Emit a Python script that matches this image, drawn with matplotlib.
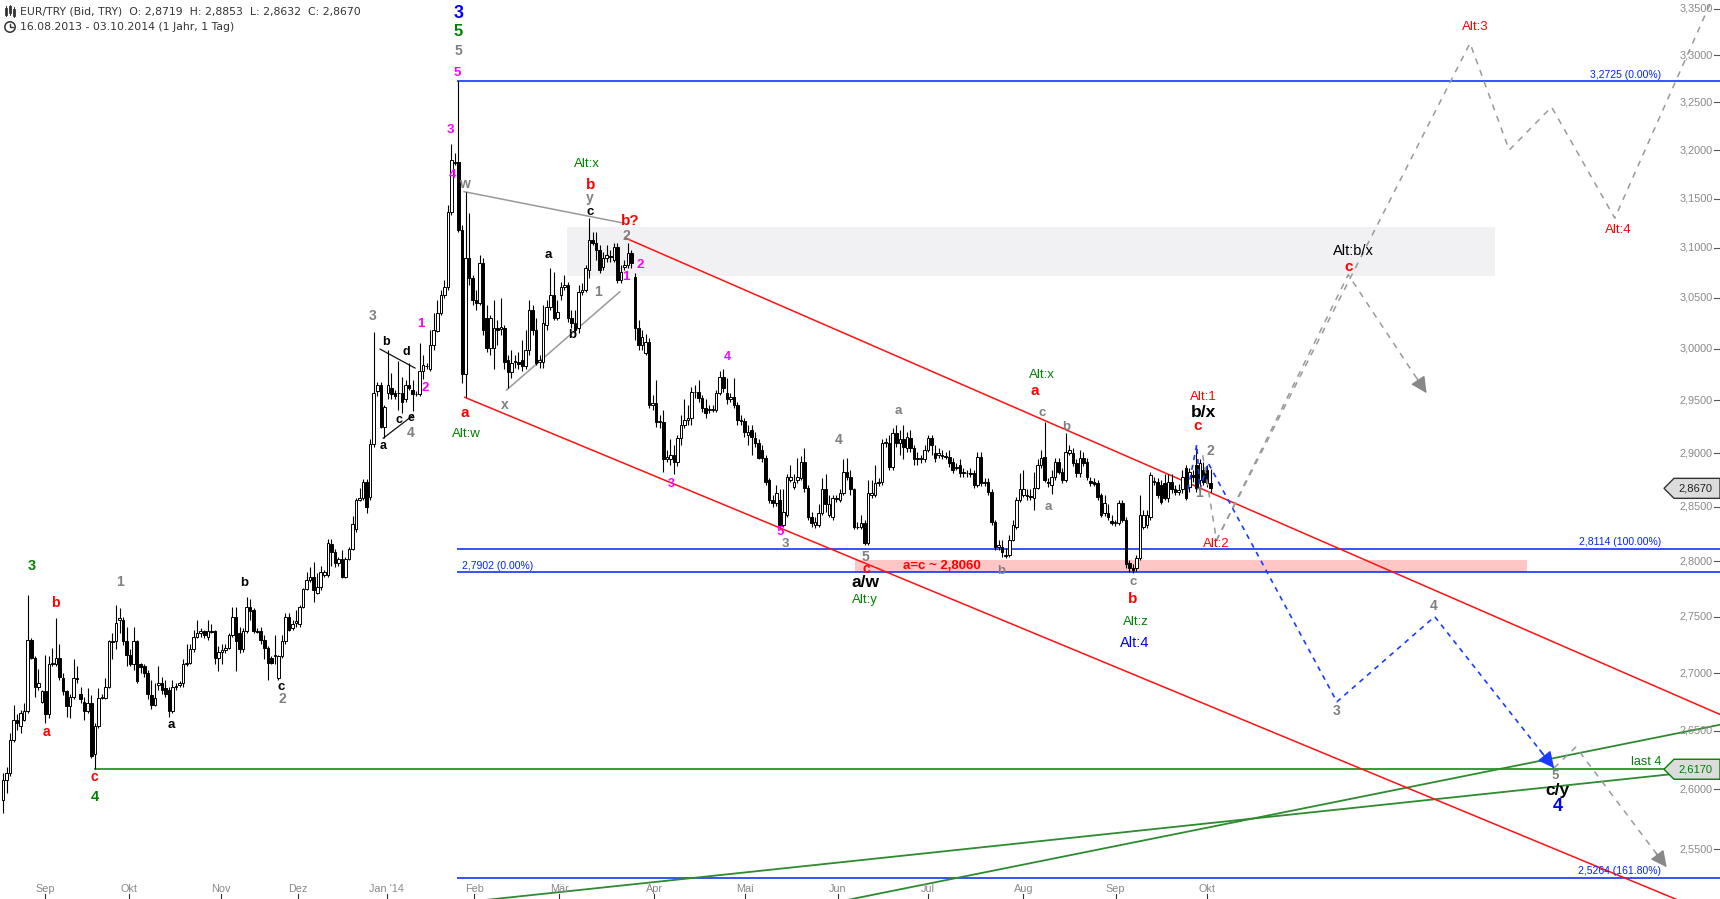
import numpy as np
import matplotlib
matplotlib.use("Agg")
import matplotlib.pyplot as plt
import matplotlib.transforms as mtransforms
from matplotlib.patches import Polygon, Circle, Rectangle
from matplotlib.lines import Line2D

plt.rcParams['font.family'] = ['Liberation Sans', 'DejaVu Sans']

# ---------------- data ----------------
symbol = "EUR/TRY (Bid, TRY)"
date_from, date_to = "16.08.2013", "03.10.2014"
span_text = "(1 Jahr, 1 Tag)"

opens = [
2.591, 2.608, 2.614, 2.642, 2.659, 2.654, 2.659, 2.667, 2.729, 2.713,
2.688, 2.675, 2.684, 2.664, 2.708, 2.708, 2.713, 2.696, 2.684, 2.671,
2.679, 2.696, 2.682, 2.675, 2.667, 2.674, 2.630, 2.654, 2.678, 2.678,
2.688, 2.728, 2.728, 2.747, 2.747, 2.728, 2.716, 2.708, 2.728, 2.708,
2.706, 2.700, 2.681, 2.672, 2.690, 2.691, 2.687, 2.685, 2.667, 2.688,
2.690, 2.691, 2.708, 2.709, 2.721, 2.732, 2.735, 2.737, 2.732, 2.737,
2.737, 2.713, 2.719, 2.720, 2.722, 2.734, 2.750, 2.735, 2.721, 2.737,
2.759, 2.756, 2.737, 2.737, 2.729, 2.722, 2.713, 2.715, 2.696, 2.715,
2.728, 2.750, 2.740, 2.744, 2.743, 2.759, 2.775, 2.783, 2.786, 2.771,
2.777, 2.787, 2.787, 2.816, 2.808, 2.798, 2.802, 2.786, 2.802, 2.811,
2.829, 2.856, 2.858, 2.873, 2.859, 2.909, 2.959, 2.965, 2.925, 2.957,
2.962, 2.957, 2.957, 2.957, 2.951, 2.965, 2.960, 2.956, 2.956, 2.978,
2.983, 2.980, 3.004, 3.017, 3.035, 3.053, 3.061, 3.136, 3.188, 3.188,
3.118, 2.975, 3.090, 3.070, 3.048, 3.045, 3.085, 3.030, 3.001, 3.001,
3.020, 3.019, 3.020, 2.989, 2.977, 2.987, 2.987, 2.989, 2.983, 2.999,
3.038, 3.018, 2.987, 2.987, 3.023, 3.041, 3.053, 3.030, 3.053, 3.061,
3.063, 3.030, 3.025, 3.020, 3.056, 3.058, 3.078, 3.108, 3.105, 3.098,
3.081, 3.090, 3.092, 3.088, 3.101, 3.068, 3.081, 3.083, 3.095, 3.071,
3.020, 3.004, 2.996, 3.007, 2.946, 2.948, 2.929, 2.929, 2.894, 2.894,
2.898, 2.892, 2.914, 2.927, 2.931, 2.933, 2.958, 2.958, 2.952, 2.943,
2.941, 2.941, 2.941, 2.957, 2.973, 2.957, 2.951, 2.953, 2.946, 2.931,
2.930, 2.917, 2.922, 2.914, 2.910, 2.903, 2.895, 2.875, 2.856, 2.853,
2.856, 2.833, 2.842, 2.875, 2.868, 2.875, 2.877, 2.892, 2.867, 2.840,
2.833, 2.833, 2.844, 2.866, 2.842, 2.840, 2.858, 2.856, 2.863, 2.882,
2.878, 2.866, 2.831, 2.831, 2.835, 2.817, 2.861, 2.861, 2.872, 2.873,
2.910, 2.910, 2.887, 2.919, 2.910, 2.913, 2.905, 2.914, 2.905, 2.894,
2.894, 2.894, 2.903, 2.914, 2.900, 2.898, 2.898, 2.897, 2.896, 2.892,
2.886, 2.889, 2.881, 2.881, 2.881, 2.881, 2.870, 2.896, 2.872, 2.873,
2.864, 2.836, 2.813, 2.813, 2.805, 2.806, 2.819, 2.831, 2.856, 2.861,
2.861, 2.860, 2.858, 2.867, 2.889, 2.896, 2.873, 2.870, 2.878, 2.892,
2.882, 2.875, 2.900, 2.900, 2.891, 2.881, 2.895, 2.892, 2.874, 2.873,
2.872, 2.861, 2.844, 2.844, 2.837, 2.835, 2.835, 2.853, 2.838, 2.798,
2.794, 2.794, 2.803, 2.831, 2.833, 2.840, 2.874, 2.873, 2.870, 2.872,
2.858, 2.873, 2.866, 2.864, 2.866, 2.886, 2.868, 2.879, 2.889, 2.875,
2.884, 2.884, 2.8719]

highs = [
2.614, 2.619, 2.648, 2.672, 2.664, 2.668, 2.674, 2.769, 2.731, 2.715,
2.704, 2.685, 2.716, 2.715, 2.722, 2.749, 2.726, 2.700, 2.685, 2.682,
2.712, 2.706, 2.688, 2.679, 2.687, 2.681, 2.657, 2.687, 2.682, 2.696,
2.729, 2.735, 2.760, 2.758, 2.750, 2.741, 2.721, 2.741, 2.729, 2.709,
2.708, 2.703, 2.694, 2.691, 2.706, 2.697, 2.694, 2.688, 2.694, 2.691,
2.693, 2.712, 2.726, 2.726, 2.738, 2.747, 2.740, 2.738, 2.747, 2.743,
2.738, 2.724, 2.726, 2.726, 2.735, 2.759, 2.759, 2.741, 2.740, 2.768,
2.766, 2.758, 2.740, 2.741, 2.734, 2.724, 2.715, 2.734, 2.716, 2.734,
2.753, 2.753, 2.747, 2.756, 2.760, 2.776, 2.790, 2.795, 2.799, 2.789,
2.796, 2.792, 2.820, 2.820, 2.811, 2.804, 2.810, 2.804, 2.813, 2.841,
2.858, 2.867, 2.876, 2.876, 2.913, 3.016, 2.968, 2.968, 2.946, 2.999,
2.976, 2.960, 2.988, 2.973, 2.970, 2.986, 2.970, 2.959, 3.006, 2.994,
2.986, 3.018, 3.035, 3.048, 3.058, 3.068, 3.143, 3.206, 3.197, 3.2725,
3.123, 3.157, 3.135, 3.073, 3.058, 3.093, 3.090, 3.043, 3.033, 3.048,
3.028, 3.050, 3.023, 2.994, 2.999, 2.994, 2.997, 3.009, 3.018, 3.048,
3.043, 3.030, 2.994, 3.043, 3.048, 3.080, 3.076, 3.048, 3.066, 3.073,
3.066, 3.038, 3.038, 3.063, 3.065, 3.083, 3.130, 3.116, 3.116, 3.103,
3.096, 3.103, 3.098, 3.105, 3.105, 3.083, 3.088, 3.105, 3.098, 3.075,
3.028, 3.018, 3.014, 3.010, 2.955, 2.970, 2.936, 2.941, 2.903, 2.913,
2.908, 2.917, 2.936, 2.951, 2.946, 2.963, 2.965, 2.970, 2.955, 2.951,
2.946, 2.946, 2.960, 2.978, 2.980, 2.972, 2.957, 2.972, 2.949, 2.936,
2.933, 2.927, 2.927, 2.920, 2.913, 2.908, 2.898, 2.877, 2.861, 2.870,
2.866, 2.866, 2.880, 2.889, 2.880, 2.895, 2.897, 2.905, 2.870, 2.845,
2.840, 2.852, 2.877, 2.880, 2.861, 2.861, 2.861, 2.866, 2.894, 2.895,
2.884, 2.867, 2.836, 2.842, 2.838, 2.875, 2.875, 2.889, 2.877, 2.913,
2.914, 2.917, 2.924, 2.927, 2.922, 2.927, 2.920, 2.922, 2.908, 2.901,
2.898, 2.908, 2.917, 2.917, 2.908, 2.905, 2.903, 2.901, 2.903, 2.895,
2.891, 2.894, 2.886, 2.884, 2.886, 2.884, 2.901, 2.901, 2.877, 2.877,
2.866, 2.838, 2.819, 2.819, 2.812, 2.824, 2.838, 2.859, 2.881, 2.884,
2.866, 2.866, 2.882, 2.894, 2.903, 2.929, 2.877, 2.884, 2.895, 2.895,
2.886, 2.919, 2.908, 2.905, 2.894, 2.903, 2.901, 2.895, 2.878, 2.877,
2.875, 2.863, 2.861, 2.852, 2.842, 2.838, 2.856, 2.856, 2.840, 2.801,
2.797, 2.806, 2.861, 2.847, 2.847, 2.882, 2.878, 2.877, 2.875, 2.880,
2.880, 2.880, 2.870, 2.871, 2.884, 2.889, 2.886, 2.884, 2.908, 2.894,
2.892, 2.889, 2.8853]

lows = [
2.580, 2.597, 2.611, 2.640, 2.651, 2.648, 2.658, 2.665, 2.712, 2.679,
2.685, 2.674, 2.657, 2.661, 2.706, 2.706, 2.694, 2.681, 2.662, 2.661,
2.677, 2.691, 2.674, 2.659, 2.665, 2.627, 2.617, 2.652, 2.677, 2.677,
2.687, 2.712, 2.721, 2.735, 2.725, 2.706, 2.706, 2.703, 2.691, 2.700,
2.697, 2.677, 2.669, 2.671, 2.685, 2.682, 2.679, 2.662, 2.665, 2.685,
2.688, 2.688, 2.706, 2.708, 2.719, 2.731, 2.732, 2.731, 2.729, 2.735,
2.708, 2.702, 2.708, 2.718, 2.721, 2.732, 2.702, 2.718, 2.719, 2.735,
2.747, 2.735, 2.735, 2.726, 2.712, 2.694, 2.708, 2.708, 2.694, 2.713,
2.726, 2.737, 2.738, 2.741, 2.741, 2.758, 2.774, 2.781, 2.763, 2.770,
2.774, 2.786, 2.786, 2.796, 2.795, 2.796, 2.785, 2.785, 2.801, 2.810,
2.827, 2.855, 2.856, 2.844, 2.856, 2.906, 2.954, 2.924, 2.914, 2.951,
2.951, 2.951, 2.941, 2.938, 2.949, 2.960, 2.940, 2.954, 2.954, 2.971,
2.980, 2.978, 2.999, 3.016, 3.033, 3.050, 3.058, 3.133, 3.184, 3.116,
2.967, 2.953, 3.063, 3.043, 3.038, 3.043, 3.013, 2.997, 2.994, 2.980,
3.004, 3.013, 2.980, 2.962, 2.972, 2.981, 2.980, 2.978, 2.980, 2.994,
3.013, 2.984, 2.981, 2.981, 3.018, 3.038, 3.028, 3.028, 3.048, 3.058,
3.026, 3.020, 3.013, 3.015, 3.053, 3.056, 3.070, 3.103, 3.088, 3.075,
3.078, 3.086, 3.086, 3.086, 3.065, 3.065, 3.078, 3.080, 3.080, 3.009,
2.999, 2.999, 2.994, 2.943, 2.941, 2.925, 2.924, 2.882, 2.892, 2.889,
2.880, 2.888, 2.908, 2.924, 2.927, 2.927, 2.952, 2.949, 2.939, 2.933,
2.938, 2.939, 2.939, 2.955, 2.958, 2.947, 2.949, 2.943, 2.927, 2.927,
2.915, 2.908, 2.898, 2.906, 2.894, 2.892, 2.870, 2.853, 2.850, 2.851,
2.831, 2.831, 2.840, 2.873, 2.866, 2.872, 2.875, 2.864, 2.838, 2.831,
2.830, 2.831, 2.842, 2.845, 2.840, 2.838, 2.854, 2.854, 2.861, 2.875,
2.861, 2.829, 2.829, 2.829, 2.815, 2.815, 2.858, 2.859, 2.869, 2.870,
2.906, 2.884, 2.884, 2.906, 2.898, 2.894, 2.901, 2.901, 2.889, 2.889,
2.891, 2.892, 2.901, 2.898, 2.892, 2.895, 2.894, 2.894, 2.887, 2.881,
2.884, 2.878, 2.878, 2.878, 2.878, 2.867, 2.868, 2.869, 2.869, 2.861,
2.833, 2.810, 2.810, 2.804, 2.803, 2.804, 2.818, 2.829, 2.854, 2.859,
2.856, 2.856, 2.847, 2.866, 2.886, 2.873, 2.868, 2.862, 2.875, 2.880,
2.872, 2.873, 2.898, 2.888, 2.878, 2.878, 2.888, 2.875, 2.869, 2.869,
2.856, 2.840, 2.841, 2.838, 2.833, 2.832, 2.833, 2.836, 2.794, 2.790,
2.789, 2.791, 2.801, 2.829, 2.830, 2.838, 2.870, 2.858, 2.852, 2.856,
2.854, 2.863, 2.861, 2.861, 2.863, 2.856, 2.864, 2.873, 2.864, 2.870,
2.870, 2.868, 2.8632]

closes = [
2.608, 2.614, 2.642, 2.659, 2.657, 2.665, 2.667, 2.729, 2.713, 2.688,
2.691, 2.684, 2.664, 2.708, 2.709, 2.713, 2.697, 2.684, 2.671, 2.679,
2.696, 2.695, 2.677, 2.667, 2.674, 2.628, 2.654, 2.678, 2.679, 2.688,
2.728, 2.727, 2.744, 2.749, 2.728, 2.716, 2.708, 2.728, 2.693, 2.705,
2.700, 2.682, 2.672, 2.678, 2.691, 2.685, 2.682, 2.667, 2.688, 2.689,
2.691, 2.708, 2.709, 2.721, 2.732, 2.735, 2.737, 2.734, 2.737, 2.736,
2.713, 2.719, 2.720, 2.722, 2.734, 2.750, 2.728, 2.721, 2.737, 2.759,
2.755, 2.737, 2.736, 2.729, 2.722, 2.709, 2.709, 2.716, 2.715, 2.728,
2.750, 2.738, 2.743, 2.746, 2.759, 2.775, 2.783, 2.786, 2.774, 2.777,
2.790, 2.790, 2.817, 2.808, 2.798, 2.802, 2.786, 2.802, 2.811, 2.834,
2.856, 2.858, 2.873, 2.850, 2.909, 2.957, 2.965, 2.925, 2.944, 2.965,
2.956, 2.954, 2.957, 2.949, 2.965, 2.962, 2.956, 2.956, 2.978, 2.984,
2.983, 3.004, 3.018, 3.035, 3.053, 3.061, 3.136, 3.190, 3.187, 3.118,
2.975, 3.090, 3.070, 3.048, 3.045, 3.085, 3.018, 3.001, 3.030, 3.020,
3.018, 3.021, 2.987, 2.977, 2.986, 2.987, 2.985, 2.983, 2.999, 3.038,
3.018, 2.986, 2.989, 3.025, 3.041, 3.053, 3.030, 3.036, 3.061, 3.063,
3.030, 3.025, 3.018, 3.056, 3.058, 3.080, 3.108, 3.105, 3.098, 3.078,
3.090, 3.093, 3.091, 3.101, 3.068, 3.076, 3.083, 3.095, 3.085, 3.020,
3.004, 3.011, 3.007, 2.946, 2.948, 2.929, 2.930, 2.894, 2.896, 2.898,
2.892, 2.914, 2.927, 2.931, 2.933, 2.958, 2.958, 2.952, 2.943, 2.938,
2.941, 2.942, 2.957, 2.973, 2.962, 2.951, 2.953, 2.946, 2.931, 2.930,
2.920, 2.920, 2.915, 2.910, 2.895, 2.895, 2.873, 2.856, 2.853, 2.863,
2.833, 2.845, 2.878, 2.878, 2.873, 2.878, 2.892, 2.867, 2.840, 2.835,
2.836, 2.844, 2.866, 2.852, 2.852, 2.858, 2.857, 2.863, 2.882, 2.878,
2.866, 2.831, 2.831, 2.835, 2.817, 2.863, 2.863, 2.872, 2.873, 2.910,
2.910, 2.887, 2.919, 2.910, 2.913, 2.906, 2.915, 2.905, 2.894, 2.895,
2.895, 2.903, 2.914, 2.908, 2.895, 2.900, 2.897, 2.896, 2.891, 2.884,
2.887, 2.881, 2.882, 2.881, 2.880, 2.870, 2.896, 2.872, 2.873, 2.864,
2.836, 2.813, 2.815, 2.808, 2.806, 2.819, 2.833, 2.856, 2.866, 2.866,
2.860, 2.859, 2.867, 2.889, 2.895, 2.875, 2.872, 2.878, 2.892, 2.882,
2.875, 2.901, 2.903, 2.891, 2.881, 2.895, 2.891, 2.878, 2.872, 2.871,
2.859, 2.842, 2.853, 2.840, 2.835, 2.835, 2.853, 2.838, 2.797, 2.794,
2.792, 2.803, 2.842, 2.842, 2.842, 2.879, 2.873, 2.861, 2.854, 2.858,
2.873, 2.866, 2.864, 2.865, 2.878, 2.858, 2.882, 2.878, 2.867, 2.891,
2.873, 2.872, 2.8670]

month_labels = ["Sep", "Okt", "Nov", "Dez", "Jan '14", "Feb", "Mär", "Apr",
                "Mai", "Jun", "Jul", "Aug", "Sep", "Okt"]
month_bars = [11.9, 35.8, 61.7, 83.5, 108.7, 133.5, 157.6, 184.4,
              210.1, 236.4, 262.0, 289.0, 315.1, 340.9]

price_ticks = [3.35, 3.30, 3.25, 3.20, 3.15, 3.10, 3.05, 3.00, 2.95, 2.90,
               2.85, 2.80, 2.75, 2.70, 2.65, 2.60, 2.55]

fib_levels = [3.2725, 2.8114, 2.7902, 2.5264]
fib_texts = ["3,2725 (0.00%)", "2,8114 (100.00%)", "2,7902 (0.00%)", "2,5264 (161.80%)"]
fib_start_bar = 128.7
last4_level = 2.6170
last4_start_bar = 25.8

# trend lines (bar, price)
chan_up_x, chan_up_y = [176.2, 486.3], [3.110, 2.664]
chan_lo_x, chan_lo_y = [130.8, 486.3], [2.953, 2.494]
w_line_x, w_line_y = [130.6, 175.7], [3.157, 3.125]
x_line_x, x_line_y = [142.6, 174.7], [2.960, 3.056]
tri_up_x, tri_up_y = [106.8, 116.7], [2.9996, 2.9812]
tri_lo_x, tri_lo_y = [107.7, 116.2], [2.9141, 2.9360]
grn_a_x, grn_a_y = [225.7, 486.3], [2.5005, 2.6551]
grn_b_x, grn_b_y = [123.8, 486.3], [2.5043, 2.6172]

# zones: (bar0, bar1, price_lo, price_hi)
pink_zone = (241.3, 431.6, 2.7902, 2.8010)
gray_zone = (159.7, 422.5, 3.0714, 3.1215)

# projected paths
blue_x = [335.6, 338.1, 339.0, 341.3, 377.8, 405.5, 439.3]
blue_y = [2.866, 2.908, 2.866, 2.891, 2.675, 2.750, 2.618]
gray1_x = [339.8, 343.7, 381.0, 403.2]
gray1_y = [2.898, 2.819, 3.073, 2.957]
gray2_x = [343.7, 415.5, 426.6, 438.6, 456.5, 484.0]
gray2_y = [2.819, 3.313, 3.200, 3.245, 3.130, 3.360]
gray3_x = [439.3, 445.5, 471.2]
gray3_y = [2.618, 2.636, 2.535]

R, G, GR, K, M, B = '#ff0000', '#008000', '#808080', '#000000', '#ff00ff', '#0000ff'
labels = [
    ("3", 8.2, 2.7956, G, 10.5, 'bold'),
    ("b", 14.7, 2.7623, R, 10, 'bold'),
    ("a", 12.2, 2.6491, R, 10, 'bold'),
    ("c", 25.9, 2.6106, R, 10, 'bold'),
    ("4", 25.9, 2.5934, G, 10.5, 'bold'),
    ("1", 33.0, 2.7808, GR, 10, 'bold'),
    ("a", 47.6, 2.6551, K, 9.5, 'bold'),
    ("b", 68.4, 2.7799, K, 9.5, 'bold'),
    ("c", 78.7, 2.6882, K, 9.5, 'bold'),
    ("2", 79.0, 2.6776, GR, 10, 'bold'),
    ("3", 104.8, 3.0322, GR, 10, 'bold'),
    ("b", 108.4, 3.0067, K, 9, 'bold'),
    ("d", 114.3, 2.9970, K, 9, 'bold'),
    ("c", 112.2, 2.9314, K, 9, 'bold'),
    ("e", 115.5, 2.9335, K, 9, 'bold'),
    ("a", 107.7, 2.9070, K, 9, 'bold'),
    ("4", 115.5, 2.9191, GR, 10, 'bold'),
    ("1", 118.3, 3.0240, M, 9.5, 'bold'),
    ("2", 119.5, 2.9618, M, 9.5, 'bold'),
    ("3", 126.6, 3.2205, M, 9.5, 'bold'),
    ("4", 127.4, 3.1746, M, 9.5, 'bold'),
    ("5", 128.7, 3.2811, M, 9.5, 'bold'),
    ("5", 129.0, 3.3042, GR, 10, 'bold'),
    ("5", 129.0, 3.3251, G, 12, 'bold'),
    ("3", 129.0, 3.3454, B, 13, 'bold'),
    ("w", 130.6, 3.1648, GR, 10, 'bold'),
    ("a", 130.8, 2.9378, R, 11, 'bold'),
    ("Alt:w", 131.3, 2.9179, G, 9.5, 'normal'),
    ("x", 142.2, 2.9458, GR, 10, 'bold'),
    ("a", 154.4, 3.0928, K, 9.5, 'bold'),
    ("b", 161.3, 3.0135, K, 9.5, 'bold'),
    ("1", 168.4, 3.0562, GR, 10, 'bold'),
    ("Alt:x", 165.5, 3.1855, G, 9.5, 'normal'),
    ("b", 166.4, 3.1639, R, 11, 'bold'),
    ("y", 166.2, 3.1503, GR, 10, 'bold'),
    ("c", 166.2, 3.1366, K, 9.5, 'bold'),
    ("b?", 177.6, 3.1275, R, 11, 'bold'),
    ("2", 176.6, 3.1119, GR, 10, 'bold'),
    ("2", 180.4, 3.0828, M, 9.5, 'bold'),
    ("1", 176.3, 3.0705, M, 9.5, 'bold'),
    ("4", 205.1, 2.9924, M, 9, 'bold'),
    ("3", 189.2, 2.8709, M, 9, 'bold'),
    ("5", 220.0, 2.8264, M, 9.5, 'bold'),
    ("3", 221.5, 2.8154, GR, 9.5, 'bold'),
    ("4", 236.8, 2.9125, GR, 10, 'bold'),
    ("5", 244.4, 2.8041, GR, 10, 'bold'),
    ("c", 244.4, 2.7926, R, 10, 'bold'),
    ("a/w", 244.3, 2.7808, K, 12.5, 'bold'),
    ("Alt:y", 244.0, 2.7650, G, 9.5, 'normal'),
    ("a", 253.6, 2.9403, GR, 9.5, 'bold'),
    ("b", 282.8, 2.7914, GR, 9.5, 'bold'),
    ("Alt:x", 294.2, 2.9746, G, 9.5, 'normal'),
    ("a", 292.1, 2.9595, R, 11, 'bold'),
    ("c", 294.2, 2.9384, GR, 9.5, 'bold'),
    ("b", 301.0, 2.9244, GR, 9.5, 'bold'),
    ("a", 296.2, 2.8495, GR, 9.5, 'bold'),
    ("c", 320.0, 2.7810, GR, 9.5, 'bold'),
    ("b", 320.0, 2.7656, R, 11, 'bold'),
    ("Alt:z", 321.0, 2.7456, G, 9.5, 'normal'),
    ("Alt:4", 320.6, 2.7269, B, 10.5, 'normal'),
    ("Alt:1", 340.1, 2.9531, R, 9.5, 'normal'),
    ("b/x", 339.9, 2.9388, K, 12.5, 'bold'),
    ("c", 338.3, 2.9259, R, 11, 'bold'),
    ("2", 342.0, 2.9020, GR, 10, 'bold'),
    ("1", 338.8, 2.8624, GR, 10, 'bold'),
    ("Alt:2", 343.7, 2.8157, R, 9.5, 'normal'),
    ("Alt:b/x", 382.6, 3.0971, K, 10.5, 'normal'),
    ("c", 381.0, 3.0811, R, 11, 'bold'),
    ("Alt:3", 416.9, 3.3307, R, 9.5, 'normal'),
    ("Alt:4", 457.5, 3.1180, R, 9.5, 'normal'),
    ("4", 405.2, 2.7591, GR, 10, 'bold'),
    ("3", 377.8, 2.6674, GR, 10, 'bold'),
    ("5", 439.5, 2.6115, GR, 9.5, 'bold'),
    ("c/y", 440.3, 2.5990, K, 12.5, 'bold'),
    ("4", 440.3, 2.5858, B, 13, 'bold'),
    ("last 4", 465.3, 2.6230, G, 9, 'normal'),
]
ac_text, ac_bar, ac_price = "a=c ~ 2,8060", 255.0, 2.7956

# ---------------- figure ----------------
W, H = 1720, 899
fig = plt.figure(figsize=(W / 100, H / 100), dpi=100)
fig.patch.set_facecolor('white')
ax = fig.add_axes([0, 0, 1, 1])
ax.set_yscale('log')
X_MIN, X_MAX = -0.85, 486.3
Y_MIN, Y_MAX = 2.5090, 3.3598
ax.set_xlim(X_MIN, X_MAX)
ax.set_ylim(Y_MIN, Y_MAX)
ax.axis('off')

o = np.array(opens); h = np.array(highs); l = np.array(lows); c = np.array(closes)
assert len(o) == len(h) == len(l) == len(c), (len(o), len(h), len(l), len(c))
h = np.maximum(h, np.maximum(o, c)); l = np.minimum(l, np.minimum(o, c))
idx = np.arange(len(o))

# zones
ax.add_patch(Rectangle((gray_zone[0], gray_zone[2]), gray_zone[1] - gray_zone[0],
                       gray_zone[3] - gray_zone[2], facecolor='#f1f0f2', edgecolor='none', zorder=1))
ax.add_patch(Rectangle((pink_zone[0], pink_zone[2]), pink_zone[1] - pink_zone[0],
                       pink_zone[3] - pink_zone[2], facecolor='#ffc6c6', edgecolor='none', zorder=1))

# fib lines
ax.hlines(fib_levels, fib_start_bar, X_MAX, color='#0022ff', lw=1.1, zorder=2)
for lev, txt in zip(fib_levels, fib_texts):
    if txt.startswith("2,7902"):
        ax.text(130.0, lev * 1.0004, txt, color='#0022ff', fontsize=7.5, ha='left', va='bottom', zorder=6)
    else:
        ax.text(469.6, lev * 1.0004, txt, color='#0022ff', fontsize=7.5, ha='right', va='bottom', zorder=6)

# green last-4 level and rising lines
ax.hlines(last4_level, last4_start_bar, X_MAX, color='#008000', lw=1.1, zorder=2)
ax.plot(grn_a_x, grn_a_y, color='#2e8b2e', lw=1.3, zorder=2)
ax.plot(grn_b_x, grn_b_y, color='#2e8b2e', lw=1.3, zorder=2)

# channels and wedge lines
ax.plot(chan_up_x, chan_up_y, color='#ff1010', lw=1.1, zorder=2)
ax.plot(chan_lo_x, chan_lo_y, color='#ff1010', lw=1.1, zorder=2)
ax.plot(w_line_x, w_line_y, color='#999999', lw=1.1, zorder=2)
ax.plot(x_line_x, x_line_y, color='#999999', lw=1.1, zorder=2)
ax.plot(tri_up_x, tri_up_y, color='#111111', lw=0.9, zorder=2)
ax.plot(tri_lo_x, tri_lo_y, color='#111111', lw=0.9, zorder=2)

# candles
ax.vlines(idx, l, h, color='black', lw=0.8, zorder=3)
bot = np.minimum(o, c); top = np.maximum(o, c)
hgt = np.maximum(top - bot, 0.0006)
up = c >= o
ax.bar(idx[up], hgt[up], bottom=bot[up], width=0.72, color='white', edgecolor='black', linewidth=0.7, zorder=4)
ax.bar(idx[~up], hgt[~up], bottom=bot[~up], width=0.72, color='black', edgecolor='black', linewidth=0.7, zorder=4)

# projected paths
ax.plot(blue_x, blue_y, color='#1a3cff', lw=1.2, ls=(0, (3, 3)), zorder=5)
for px_, py_ in ((gray1_x, gray1_y), (gray2_x, gray2_y), (gray3_x, gray3_y)):
    ax.plot(px_, py_, color='#999999', lw=1.1, ls=(0, (4, 4)), zorder=5)


def arrow_head(xs, ys, color):
    x0, y0, x1, y1 = xs[-2], ys[-2], xs[-1], ys[-1]
    t = 0.88
    xm = x0 + (x1 - x0) * t
    ym = np.exp(np.log(y0) + (np.log(y1) - np.log(y0)) * t)
    ax.annotate('', xy=(x1, y1), xytext=(xm, ym),
                arrowprops=dict(arrowstyle='-|>,head_length=0.9,head_width=0.45', color=color,
                                lw=1.0, shrinkA=0, shrinkB=0, mutation_scale=11), zorder=6)


arrow_head(blue_x, blue_y, '#1a3cff')
arrow_head(gray1_x, gray1_y, '#888888')
arrow_head(gray3_x, gray3_y, '#888888')

# labels
for txt, bx, py, col, fs, fw in labels:
    ax.text(bx, py, txt, color=col, fontsize=fs, fontweight=fw, ha='center', va='center', zorder=7)
ax.text(ac_bar, ac_price, ac_text, color=R, fontsize=9.5, fontweight='bold', ha='left', va='center', zorder=7)

# price axis on the right (drawn inside)
tr_y = mtransforms.blended_transform_factory(ax.transAxes, ax.transData)
for v in price_ticks:
    ax.text(1 - 7 / W, v, f"{v:.4f}".replace('.', ','), transform=tr_y, ha='right', va='center',
            color='#888888', fontsize=7.8, zorder=6)
    ax.plot([1 - 6 / W, 1], [v, v], transform=tr_y, color='#555555', lw=0.8, zorder=6)

# time axis at the bottom
tr_x = mtransforms.blended_transform_factory(ax.transData, ax.transAxes)
for lab, bx in zip(month_labels, month_bars):
    ax.text(bx, 1 - 889 / H, lab, transform=tr_x, ha='center', va='center', color='#888888', fontsize=7.8, zorder=6)
    ax.plot([bx, bx], [0, 5 / H], transform=tr_x, color='#333333', lw=0.8, zorder=6)

# price tags at the right edge
ident = mtransforms.IdentityTransform()


def price_tag(price, edge, face, tcol):
    px, py = ax.transData.transform((X_MAX, price))
    verts = [(px, py - 10), (px - 46, py - 10), (px - 56, py), (px - 46, py + 10), (px, py + 10)]
    ax.add_patch(Polygon(verts, closed=True, transform=ident, facecolor=face, edgecolor=edge, lw=1.0, zorder=8))
    ax.text(px - 25, py, f"{price:.4f}".replace('.', ','), transform=ident, ha='center', va='center',
            color=tcol, fontsize=8, zorder=9)


price_tag(c[-1], '#333333', '#dcdcdc', '#222222')
price_tag(last4_level, '#008000', '#dcdcdc', '#008000')

# header
fmt = lambda v: f"{v:.4f}".replace('.', ',')
hdr = f"{symbol}  O: {fmt(o[-1])}  H: {fmt(h[-1])}  L: {fmt(l[-1])}  C: {fmt(c[-1])}"
fig.text(20 / W, 1 - 11 / H, hdr, ha='left', va='center', fontsize=7.8, color='#333333',
         family=['DejaVu Sans'])
fig.text(20 / W, 1 - 27 / H, f"{date_from} - {date_to} {span_text}", ha='left', va='center',
         fontsize=7.8, color='#333333', family=['DejaVu Sans'])
# small icons
for xx, y0, y1, b0, b1 in ((6, 6, 16, 9, 14), (10, 5, 15, 7, 12), (14, 7, 17, 10, 15)):
    fig.add_artist(Line2D([xx, xx], [H - y0, H - y1], transform=ident, color='#333333', lw=0.7))
    fig.add_artist(Line2D([xx, xx], [H - b0, H - b1], transform=ident, color='#333333', lw=2.0))
fig.add_artist(Circle((10, H - 27), 5.2, transform=ident, fill=False, edgecolor='#333333', lw=1.1))
fig.add_artist(Line2D([10, 10, 13], [H - 23.5, H - 27, H - 27], transform=ident, color='#333333', lw=1.0))

fig.savefig("out.png", dpi=100, facecolor='white')
